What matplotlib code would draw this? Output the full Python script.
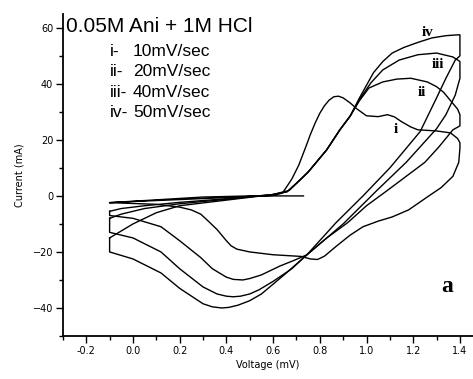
import matplotlib.pyplot as plt
from matplotlib.ticker import MultipleLocator

# cyclic voltammograms, voltage (V axis) and current (mA)
# i - 10 mV/sec (starts with a short scan down from 0.73)
v_10 = [0.73, 0.5, 0.3, 0.1, -0.1, 0.0, 0.2, 0.4, 0.6, 0.64, 0.68, 0.71, 0.74, 0.76,
        0.78, 0.80, 0.82, 0.84, 0.86, 0.88, 0.90, 0.93, 0.96, 1.0, 1.05, 1.09, 1.12,
        1.15, 1.19, 1.22, 1.30, 1.36, 1.39, 1.40, 1.40, 1.395, 1.37, 1.32, 1.26, 1.18,
        1.11, 1.05, 0.985, 0.93, 0.87, 0.82, 0.79, 0.76, 0.72, 0.6, 0.5, 0.445, 0.42,
        0.4, 0.36, 0.32, 0.29, 0.25, 0.2, 0.1, -0.1]
c_10 = [0.0, 0.0, -0.4, -1.4, -2.4, -2.0, -1.3, -0.6, 0.2, 1.0, 6.0, 11.0, 17.5, 22.0,
        26.0, 29.5, 32.2, 34.2, 35.4, 35.6, 35.0, 33.2, 31.0, 28.6, 28.3, 29.0, 28.2,
        26.5, 24.6, 23.6, 23.2, 22.5, 20.5, 19.0, 17.0, 12.0, 7.0, 3.0, -0.4, -5.0,
        -7.5, -9.0, -11.0, -14.0, -18.0, -21.5, -22.7, -22.5, -21.6, -21.0, -20.0,
        -19.0, -17.8, -16.0, -12.0, -8.8, -6.5, -5.0, -4.0, -3.0, -2.4]

# ii - 20 mV/sec
v_20 = [-0.1, -0.05, 0.05, 0.2, 0.4, 0.6, 0.66, 0.7, 0.75, 0.8, 0.83, 0.886, 0.93,
        0.97, 1.01, 1.07, 1.13, 1.19, 1.26, 1.30, 1.33, 1.36, 1.39, 1.40, 1.40, 1.37,
        1.31, 1.25, 1.17, 1.09, 1.0, 0.92, 0.83, 0.745, 0.69, 0.63, 0.55, 0.5, 0.47,
        0.43, 0.4, 0.34, 0.29, 0.2, 0.12, 0.0, -0.1, -0.1]
c_20 = [-5.5, -4.5, -3.5, -2.3, -1.0, 0.5, 1.5, 4.5, 8.5, 13.5, 16.5, 23.6, 28.5,
        34.0, 38.5, 40.7, 41.7, 42.0, 40.7, 39.0, 37.0, 34.0, 31.0, 29.0, 25.0, 23.6,
        17.5, 12.0, 7.0, 2.0, -3.5, -9.5, -15.0, -21.0, -23.0, -25.0, -28.2, -29.5,
        -30.0, -29.8, -29.0, -26.0, -22.0, -16.0, -11.0, -8.0, -7.0, -5.5]

# iii - 40 mV/sec
v_40 = [-0.1, -0.05, 0.05, 0.2, 0.4, 0.6, 0.66, 0.7, 0.75, 0.8, 0.83, 0.886, 0.93,
        0.97, 1.02, 1.07, 1.14, 1.22, 1.30, 1.37, 1.40, 1.40, 1.38, 1.34, 1.30, 1.17,
        1.045, 0.9, 0.745, 0.68, 0.6, 0.54, 0.5, 0.46, 0.43, 0.4, 0.36, 0.3, 0.2,
        0.12, 0.0, -0.1, -0.1]
c_40 = [-8.0, -6.5, -4.5, -2.8, -1.2, 0.5, 1.5, 4.5, 8.5, 13.5, 16.5, 23.6, 28.5,
        34.5, 40.5, 45.0, 48.5, 50.4, 51.0, 49.6, 48.0, 42.0, 36.0, 29.0, 24.0, 12.0,
        2.0, -10.0, -21.0, -26.0, -30.5, -33.5, -35.0, -35.8, -36.0, -35.8, -35.0,
        -32.5, -26.0, -20.0, -15.0, -13.0, -8.0]

# iv - 50 mV/sec
v_50 = [-0.1, -0.05, 0.0, 0.1, 0.2, 0.4, 0.6, 0.67, 0.7, 0.75, 0.8, 0.83, 0.886,
        0.93, 0.97, 1.0, 1.03, 1.07, 1.11, 1.16, 1.22, 1.28, 1.34, 1.39, 1.40, 1.40,
        1.38, 1.34, 1.30, 1.23, 1.1, 0.985, 0.87, 0.745, 0.65, 0.55, 0.5, 0.45, 0.41,
        0.38, 0.34, 0.3, 0.2, 0.12, 0.0, -0.1, -0.1]
c_50 = [-15.0, -12.5, -10.0, -6.0, -3.5, -1.5, 0.5, 2.0, 4.5, 8.5, 13.5, 16.5, 23.6,
        28.5, 35.0, 39.5, 44.0, 48.0, 51.0, 53.0, 54.8, 56.4, 57.2, 57.5, 57.5, 50.0,
        48.5, 42.0, 35.0, 23.0, 10.0, 0.0, -9.5, -21.0, -28.0, -35.0, -37.4, -39.0,
        -39.8, -40.0, -39.6, -38.5, -33.0, -27.5, -22.5, -20.0, -15.0]

curves = [(v_10, c_10), (v_20, c_20), (v_40, c_40), (v_50, c_50)]
rate_names = ['i-', 'ii-', 'iii-', 'iv-']
rate_values = ['10mV/sec', '20mV/sec', '40mV/sec', '50mV/sec']
curve_tags = ['i', 'ii', 'iii', 'iv']
tag_pos = [(1.126, 23.6), (1.238, 36.8), (1.306, 46.8), (1.26, 58.2)]

fig = plt.figure(figsize=(4.73, 3.79), dpi=100)
ax = fig.add_axes([0.133, 0.1135, 0.867, 0.85])

for v, c in curves:
    ax.plot(v, c, color='black', linewidth=1.0)

ax.set_xlim(-0.3, 1.456)
ax.set_ylim(-50, 65)

# only left and bottom axis lines
ax.spines['top'].set_visible(False)
ax.spines['right'].set_visible(False)
ax.spines['left'].set_linewidth(1.3)
ax.spines['bottom'].set_linewidth(1.3)

ax.xaxis.set_major_locator(MultipleLocator(0.2))
ax.xaxis.set_minor_locator(MultipleLocator(0.1))
ax.yaxis.set_major_locator(MultipleLocator(20))
ax.yaxis.set_minor_locator(MultipleLocator(10))
ax.set_xticks([-0.2, 0.0, 0.2, 0.4, 0.6, 0.8, 1.0, 1.2, 1.4])
ax.set_xticklabels(['-0.2', '0.0', '0.2', '0.4', '0.6', '0.8', '1.0', '1.2', '1.4'])
ax.set_yticks([-40, -20, 0, 20, 40, 60])
ax.tick_params(which='major', direction='out', length=5, width=1.0, labelsize=7, pad=2)
ax.tick_params(which='minor', direction='out', length=3, width=1.0)

ax.set_xlabel('Voltage (mV)', fontsize=7, labelpad=3)
ax.set_ylabel('Current (mA)', fontsize=7, labelpad=6)

# title text and scan rates
ax.text(-0.287, 60.3, '0.05M Ani + 1M HCl', fontsize=15, family='Liberation Sans',
        va='center', ha='left')
legend_y = [51.4, 44.3, 36.8, 29.6]
for name, rate, y in zip(rate_names, rate_values, legend_y):
    ax.text(-0.0985, y, name, fontsize=12.5, family='Liberation Sans', va='center')
    ax.text(0.0, y, rate, fontsize=12.5, family='Liberation Sans', va='center')

for tag, (x, y) in zip(curve_tags, tag_pos):
    ax.text(x, y, tag, fontsize=11, family='Liberation Serif', fontweight='bold',
            ha='center', va='center')

ax.text(1.345, -32.5, 'a', fontsize=17, family='Liberation Serif', fontweight='bold',
        ha='center', va='center')

plt.savefig('out.png', dpi=100)
